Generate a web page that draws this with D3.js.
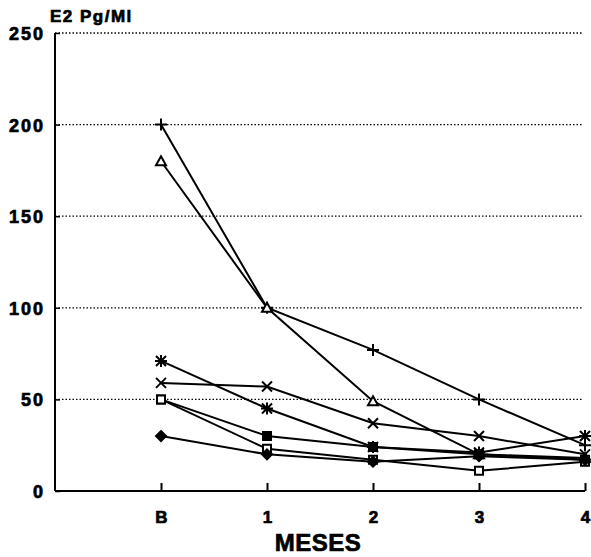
<!DOCTYPE html>
<html>
<head>
<meta charset="utf-8">
<script src="https://cdn.jsdelivr.net/npm/d3@7"></script>
<style>
  html, body { margin: 0; padding: 0; background: #fff; }
  svg text { font-family: "Liberation Sans", Arial, sans-serif; font-weight: bold; fill: #000;
             stroke: #000; stroke-width: 0.7px; }
</style>
</head>
<body>
<div id="chart"></div>
<script>
// months (B = basal)
const categories = ['B', '1', '2', '3', '4'];
const yTicks = [0, 50, 100, 150, 200, 250];

// E2 values per patient
const serPlus     = [200, 100, 77, 50, 25];
const serTriangle = [180, 100, 49, 20, 18];
const serStar     = [71, 45, 24, 21, 30];
const serX        = [59, 57, 37, 30, 20];
const serDot      = [50, 30, 24, 20, 17];
const serSquare   = [50, 23, 17, 11, 16];
const serDiamond  = [30, 20, 16, 19, 17];

const series = [
  { vals: serPlus, mark: 'plus' },
  { vals: serTriangle, mark: 'triangle' },
  { vals: serStar, mark: 'star' },
  { vals: serX, mark: 'x' },
  { vals: serDot, mark: 'dot' },
  { vals: serSquare, mark: 'square' },
  { vals: serDiamond, mark: 'diamond' },
];

const W = 591, H = 557;
const svg = d3.select('#chart').append('svg').attr('width', W).attr('height', H);

const x = d3.scaleLinear().domain([-1, 4]).range([55, 585]);
const y = d3.scaleLinear().domain([0, 250]).range([491, 33]);

// dotted grid
svg.append('g').selectAll('line').data(yTicks.filter(d => d > 0)).join('line')
  .attr('x1', x(-1)).attr('x2', x(4) - 2)
  .attr('y1', d => y(d)).attr('y2', d => y(d))
  .attr('stroke', '#000').attr('stroke-width', 1.3).attr('stroke-dasharray', '1.5,2');

// y axis
const yAx = svg.append('g').attr('transform', `translate(${x(-1)},0)`)
  .call(d3.axisRight(y).tickValues(yTicks).tickSize(5).tickFormat(d3.format('d')));
yAx.select('.domain').attr('stroke-width', 2).attr('d', `M0,${y(250)}V${y(0)}`);
yAx.selectAll('.tick line').attr('stroke-width', 1.5);
yAx.selectAll('.tick text').attr('x', -10).attr('text-anchor', 'end').attr('dy', '0.36em')
  .attr('font-size', 18).attr('letter-spacing', '2px');

// x axis
const xAx = svg.append('g').attr('transform', `translate(0,${y(0)})`)
  .call(d3.axisTop(x).tickValues(d3.range(categories.length)).tickSize(8).tickFormat(i => categories[i]));
xAx.select('.domain').attr('stroke-width', 2).attr('d', `M${x(-1)},0H${x(4)}`);
xAx.selectAll('.tick line').attr('stroke-width', 2);
xAx.selectAll('.tick text').attr('y', 32).attr('dy', 0).attr('font-size', 17);

svg.append('text').attr('x', 50).attr('y', 22).attr('font-size', 17).attr('letter-spacing', '1.5px')
  .text('E2 Pg/Ml');
svg.append('text').attr('x', 318).attr('y', 551).attr('text-anchor', 'middle')
  .attr('font-size', 24).attr('letter-spacing', '0.5px').text('MESES');

// lines
const line = d3.line().x((d, i) => x(i)).y(d => y(d));
svg.append('g').selectAll('path').data(series).join('path')
  .attr('d', s => line(s.vals)).attr('fill', 'none')
  .attr('stroke', '#000').attr('stroke-width', 2);

// markers
const r = 5;
function markerPath(kind) {
  const p = d3.path();
  if (kind === 'plus') {
    p.moveTo(-r - 1, 0); p.lineTo(r + 1, 0); p.moveTo(0, -r - 1); p.lineTo(0, r + 1);
  } else if (kind === 'x') {
    p.moveTo(-r, -r); p.lineTo(r, r); p.moveTo(-r, r); p.lineTo(r, -r);
  } else if (kind === 'star') {
    p.moveTo(-r, -r); p.lineTo(r, r); p.moveTo(-r, r); p.lineTo(r, -r);
    p.moveTo(-r - 1, 0); p.lineTo(r + 1, 0); p.moveTo(0, -r - 1); p.lineTo(0, r + 1);
  } else if (kind === 'triangle') {
    p.moveTo(0, -r); p.lineTo(r, r - 1); p.lineTo(-r, r - 1); p.closePath();
  } else if (kind === 'square' || kind === 'dot') {
    p.rect(-r + 1, -r + 1, 2 * r - 2, 2 * r - 2);
  } else if (kind === 'diamond') {
    p.moveTo(0, -r); p.lineTo(r, 0); p.lineTo(0, r); p.lineTo(-r, 0); p.closePath();
  }
  return p.toString();
}
const filled = { dot: true, diamond: true };

series.forEach(s => {
  svg.append('g').selectAll('path').data(s.vals).join('path')
    .attr('transform', (d, i) => `translate(${x(i)},${y(d)})`)
    .attr('d', markerPath(s.mark))
    .attr('fill', filled[s.mark] ? '#000' : '#fff')
    .attr('fill-opacity', (s.mark === 'plus' || s.mark === 'x' || s.mark === 'star') ? 0 : 1)
    .attr('stroke', '#000').attr('stroke-width', 2);
});
</script>
</body>
</html>
